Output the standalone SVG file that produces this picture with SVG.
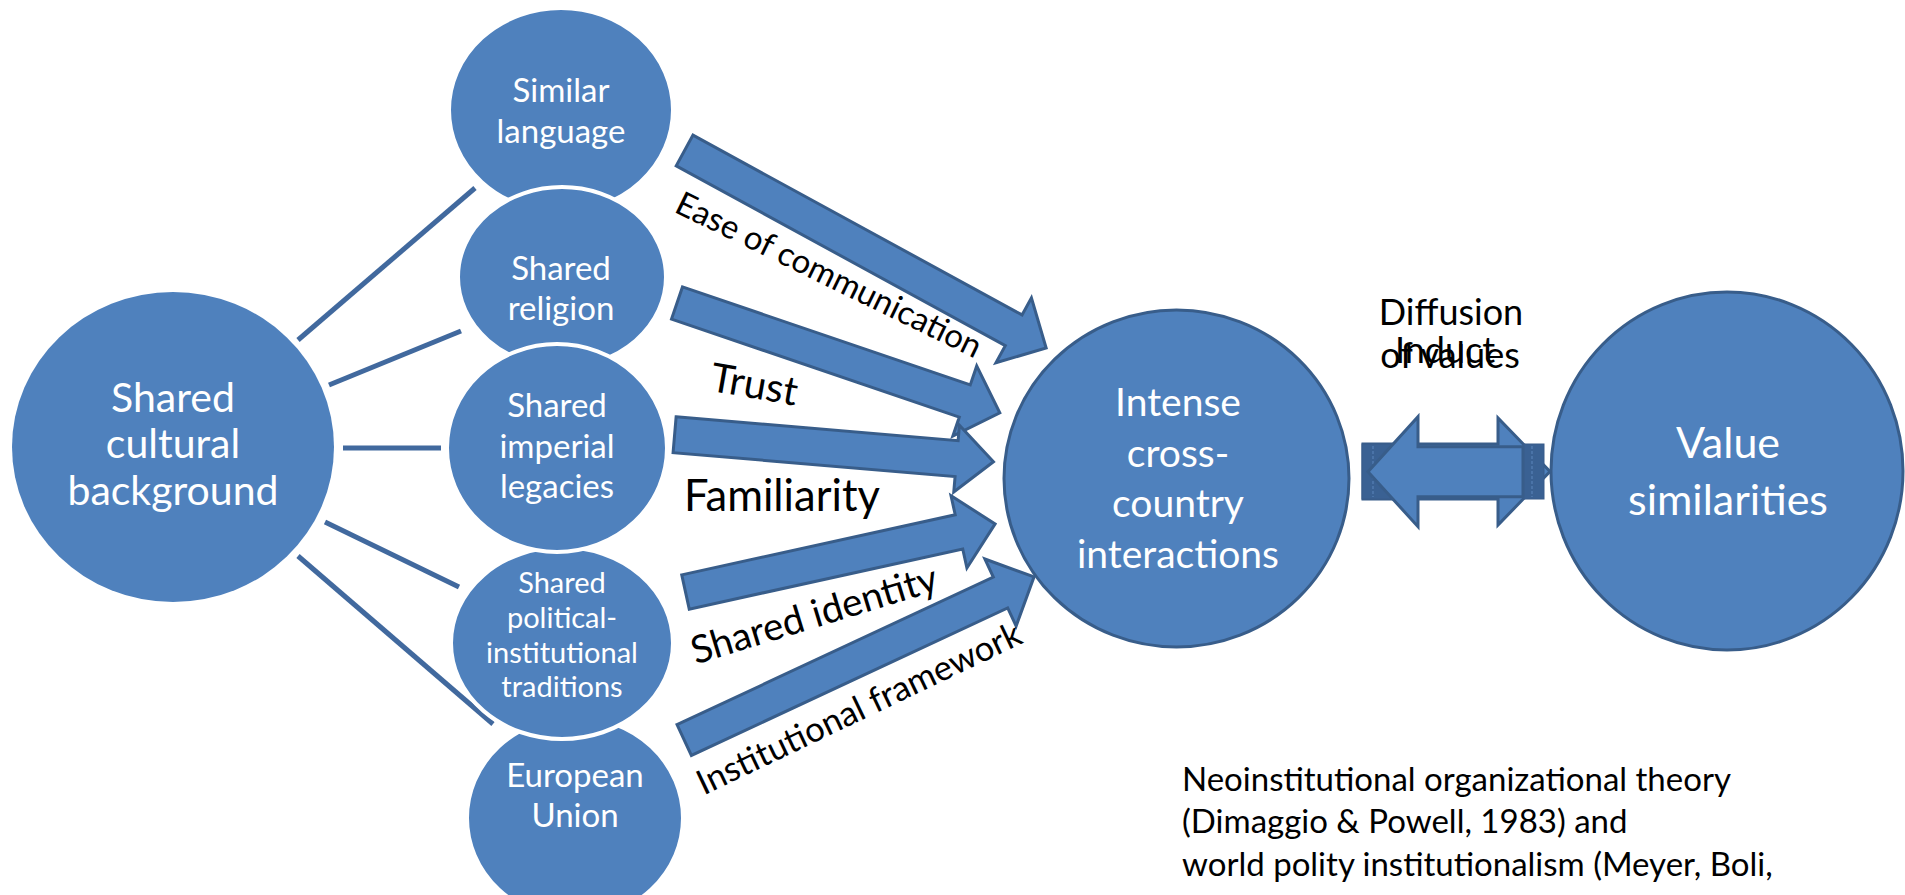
<svg xmlns="http://www.w3.org/2000/svg" width="1905" height="895" viewBox="0 0 1905 895">
<style>
.src{fill:#4F81BD;stroke:#FFFFFF;stroke-width:4}
.big{fill:#4F81BD;stroke:none}
.main{fill:#4F81BD;stroke:#385D8A;stroke-width:3}
.arr{fill:#4F81BD;stroke:#385D8A;stroke-width:3;stroke-linejoin:miter}
.dark{fill:#3A6193;stroke:#385D8A;stroke-width:1}
.ln{stroke:#41699E;stroke-width:5;fill:none}
.wt{fill:#FFFFFF;font-family:Lato,'Liberation Sans',sans-serif;text-anchor:middle}
.bt{fill:#000000;font-family:Lato,'Liberation Sans',sans-serif}
</style>
<rect width="1905" height="895" fill="#FFFFFF"/>
<g id="connectors">
<line class="ln" x1="298" y1="340" x2="475" y2="188"/>
<line class="ln" x1="329" y1="385" x2="461" y2="331"/>
<line class="ln" x1="343" y1="448" x2="441" y2="448"/>
<line class="ln" x1="325" y1="522" x2="459" y2="587"/>
<line class="ln" x1="298" y1="556" x2="493" y2="724"/>
</g>
<g id="shared-cultural-background">
<ellipse class="big" cx="173" cy="447" rx="161" ry="155"/>
<text class="wt" font-size="41" x="173" y="412">Shared</text>
<text class="wt" font-size="41" x="173" y="458">cultural</text>
<text class="wt" font-size="41" x="173" y="505">background</text>
</g>
<g id="similar-language">
<ellipse class="src" cx="561" cy="110" rx="112" ry="102"/>
<text class="wt" font-size="33" x="561" y="102">Similar</text>
<text class="wt" font-size="33" x="561" y="143">language</text>
</g>
<g id="shared-religion">
<ellipse class="src" cx="562" cy="277" rx="104" ry="90"/>
<text class="wt" font-size="33" x="561" y="280">Shared</text>
<text class="wt" font-size="33" x="561" y="320">religion</text>
</g>
<g id="european-union">
<ellipse class="src" cx="575" cy="818" rx="108" ry="101"/>
<text class="wt" font-size="33" x="575" y="787">European</text>
<text class="wt" font-size="33" x="575" y="827">Union</text>
</g>
<g id="shared-political-institutional-traditions">
<ellipse class="src" cx="562" cy="643" rx="111" ry="96"/>
<text class="wt" font-size="29" x="562" y="593">Shared</text>
<text class="wt" font-size="29" x="562" y="628">political-</text>
<text class="wt" font-size="29" x="562" y="663">institutional</text>
<text class="wt" font-size="29" x="562" y="697">traditions</text>
</g>
<g id="shared-imperial-legacies">
<ellipse class="src" cx="557" cy="448" rx="110" ry="104"/>
<text class="wt" font-size="33" x="557" y="417">Shared</text>
<text class="wt" font-size="33" x="557" y="458">imperial</text>
<text class="wt" font-size="33" x="557" y="498">legacies</text>
</g>
<g id="intense-cross-country-interactions">
<ellipse class="main" cx="1176.5" cy="478.5" rx="172.5" ry="168.5"/>
<text class="wt" font-size="39" x="1178" y="416">Intense</text>
<text class="wt" font-size="39" x="1178" y="467">cross-</text>
<text class="wt" font-size="39" x="1178" y="517">country</text>
<text class="wt" font-size="39" x="1178" y="568">interactions</text>
</g>
<g id="value-similarities">
<ellipse class="main" cx="1727" cy="471" rx="176" ry="179"/>
<text class="wt" font-size="43" x="1728" y="458">Value</text>
<text class="wt" font-size="43" x="1728" y="515">similarities</text>
</g>
<g id="block-arrows">
<polygon class="arr" transform="translate(684.6,150.5) rotate(28.65)" points="0,-17.5 375,-17.5 375,-37 412,0 375,37 375,17.5 0,17.5"/>
<polygon class="arr" transform="translate(677,303) rotate(18.8)" points="0,-17 304,-17 304,-37 341,0 304,37 304,17 0,17"/>
<polygon class="arr" transform="translate(674.6,434.7) rotate(4.84)" points="0,-18 283,-18 283,-33.5 320,0 283,33.5 283,18 0,18"/>
<polygon class="arr" transform="translate(685.5,592) rotate(-12.4)" points="0,-17.5 280,-17.5 280,-37 317,0 280,37 280,17.5 0,17.5"/>
<polygon class="arr" transform="translate(684.2,740) rotate(-25)" points="0,-17 349,-17 349,-37 386,0 349,37 349,17 0,17"/>
</g>
<g id="double-arrow">
<polygon class="arr" points="1363,444 1498,444 1498,418 1550,471.5 1498,525 1498,499 1363,499"/>
<rect class="dark" x="1362" y="444" width="56" height="55"/>
<rect class="dark" x="1523" y="444" width="21" height="55"/>
<line x1="1532" y1="446" x2="1532" y2="497" stroke="#5A86BC" stroke-width="1" stroke-dasharray="3,2"/>
<line x1="1373" y1="446" x2="1373" y2="497" stroke="#5A86BC" stroke-width="1" stroke-dasharray="3,2"/>
<polygon class="arr" points="1523,446.7 1418,446.7 1418,416.7 1368,471.7 1418,526.7 1418,496.7 1523,496.7"/>
</g>
<g id="labels">
<text class="bt" font-size="33" text-anchor="middle" transform="translate(824,285) rotate(26)">Ease of communication</text>
<text class="bt" font-size="40" text-anchor="middle" transform="translate(752,398) rotate(10)">Trust</text>
<text class="bt" font-size="43.5" x="684" y="511">Familiarity</text>
<text class="bt" font-size="38.5" text-anchor="middle" transform="translate(818,627) rotate(-17)">Shared identity</text>
<text class="bt" font-size="34.5" text-anchor="middle" transform="translate(864,719) rotate(-25.5)">Institutional framework</text>
<text class="bt" font-size="36" text-anchor="middle" x="1451" y="325">Diffusion</text>
<text class="bt" font-size="36" text-anchor="middle" x="1445" y="363">Induct</text>
<text class="bt" font-size="36" text-anchor="middle" x="1450" y="368">of values</text>
<text class="bt" font-size="33" x="1182" y="791">Neoinstitutional organizational theory</text>
<text class="bt" font-size="33" x="1182" y="833">(Dimaggio &amp; Powell, 1983) and</text>
<text class="bt" font-size="33" x="1182" y="876">world polity institutionalism (Meyer, Boli,</text>
</g>
</svg>
